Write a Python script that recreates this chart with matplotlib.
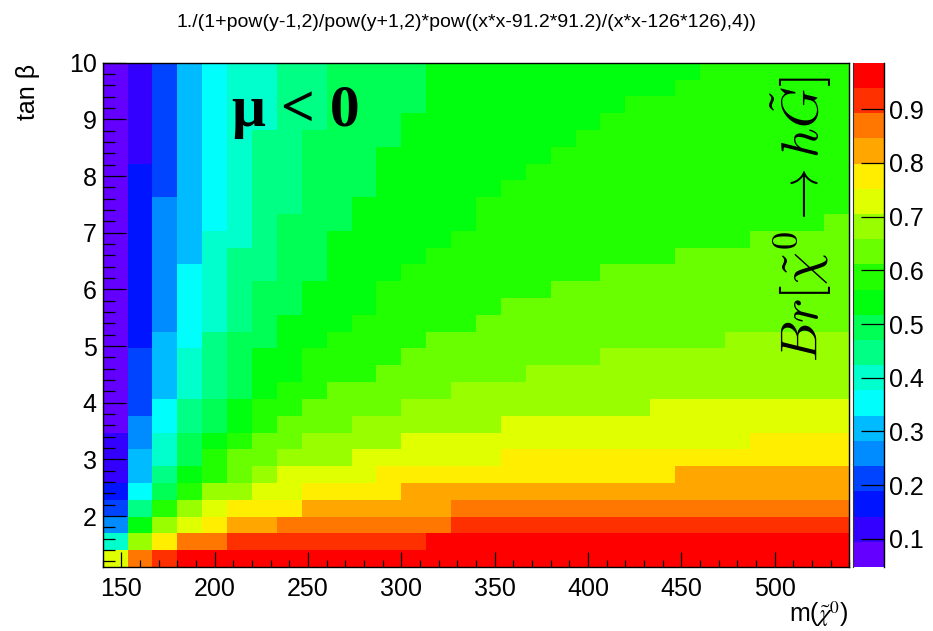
import numpy as np
import matplotlib
matplotlib.use("Agg")
import matplotlib.pyplot as plt
from matplotlib.colors import ListedColormap, BoundaryNorm
from matplotlib.ticker import MultipleLocator

plt.rcParams['font.family'] = ['Liberation Sans', 'DejaVu Sans']

W, H, DPI = 933, 631, 100

# ---------------- texts ----------------
title_text = "1./(1+pow(y-1,2)/pow(y+1,2)*pow((x*x-91.2*91.2)/(x*x-126*126),4))"
x_label = r"m($\tilde{\chi}^{0}$)"
y_label = "tan β"
z_label = r"$Br[\tilde{\chi}^{0}\rightarrow h\tilde{G}]$"
annotation = "μ < 0"

# ---------------- axes / bins ----------------
x_range = (140.0, 540.0)          # 30 bins
y_range = (1.1, 10.0)             # 30 bins
z_range = (0.0476, 0.9866)        # colour scale limits
x_major_ticks = [150, 200, 250, 300, 350, 400, 450, 500]
y_major_ticks = [2, 3, 4, 5, 6, 7, 8, 9, 10]
z_ticks = [0.1, 0.2, 0.3, 0.4, 0.5, 0.6, 0.7, 0.8, 0.9]
z_tick_labels = ["0.1", "0.2", "0.3", "0.4", "0.5", "0.6", "0.7", "0.8", "0.9"]

# 20 colour bands of the palette (bottom -> top)
palette = ["#6300ff", "#3300ff", "#0014ff", "#0044ff", "#008bff",
           "#00bbff", "#00fffc", "#00ffcc", "#00ff85", "#00ff55",
           "#00ff0e", "#22ff00", "#69ff00", "#99ff00", "#e0ff00",
           "#ffee00", "#ffa700", "#ff7700", "#ff3000", "#ff0000"]

# colour band index of every cell.
# one string per x bin (left -> right), characters = y bins bottom -> top,
# band index coded as 0-9 then A(10) ... J(19)
level_columns = [
    "E7432" "11100" "00000" "00000" "00000" "00000",
    "HDA86" "55443" "33322" "22222" "22221" "11111",
    "IFDB9" "87766" "55554" "44444" "44333" "33333",
    "JHEDB" "A9988" "77766" "66655" "55555" "55555",
    "JHFED" "BBA99" "88887" "77777" "66666" "66666",
    "JIGFD" "CCBAA" "99998" "88887" "77777" "77777",
    "JIGFE" "DCCBB" "AAA99" "99888" "88888" "87777",
    "JIHFE" "EDCCB" "BAAAA" "99999" "98888" "88888",
    "JIHGF" "EDDCC" "BBBAA" "AA999" "99999" "98888",
    "JIHGF" "EDDCC" "CBBBA" "AAAAA" "99999" "99999",
    "JIHGF" "EEDDC" "CBBBB" "AAAAA" "AA999" "99999",
    "JIHGF" "FEDDC" "CCBBB" "BBAAA" "AAAAA" "99999",
    "JIHGG" "FEEDD" "CCCBB" "BBBAA" "AAAAA" "AA999",
    "JJHGG" "FEEDD" "CCCCB" "BBBBA" "AAAAA" "AAAAA",
    "JJIHG" "FEEDD" "DCCCB" "BBBBB" "AAAAA" "AAAAA",
    "JJIHG" "FEEDD" "DCCCC" "BBBBB" "BBAAA" "AAAAA",
    "JJIHG" "FFEED" "DCCCC" "CBBBB" "BBBAA" "AAAAA",
    "JJIHG" "FFEED" "DDCCC" "CBBBB" "BBBBA" "AAAAA",
    "JJIHG" "FFEED" "DDCCC" "CCBBB" "BBBBB" "AAAAA",
    "JJIHG" "FFEED" "DDCCC" "CCBBB" "BBBBB" "BAAAA",
    "JJIHG" "FFEED" "DDDCC" "CCCBB" "BBBBB" "BBAAA",
    "JJIHG" "FFEED" "DDDCC" "CCCBB" "BBBBB" "BBBAA",
    "JJIHG" "FFEEE" "DDDCC" "CCCBB" "BBBBB" "BBBAA",
    "JJIHG" "GFEEE" "DDDCC" "CCCCB" "BBBBB" "BBBBA",
    "JJIHG" "GFEEE" "DDDCC" "CCCCB" "BBBBB" "BBBBB",
    "JJIHG" "GFEEE" "DDDDC" "CCCCB" "BBBBB" "BBBBB",
    "JJIHG" "GFFEE" "DDDDC" "CCCCC" "BBBBB" "BBBBB",
    "JJIHG" "GFFEE" "DDDDC" "CCCCC" "BBBBB" "BBBBB",
    "JJIHG" "GFFEE" "DDDDC" "CCCCC" "BBBBB" "BBBBB",
    "JJIHG" "GFFEE" "DDDDC" "CCCCC" "CBBBB" "BBBBB",
]

# ---------------- build grid ----------------
codes = "0123456789ABCDEFGHIJ"
levels = np.array([[codes.index(c) for c in col] for col in level_columns]).T
n_lev = len(palette)
zmin, zmax = z_range
dz = (zmax - zmin) / n_lev
values = zmin + (levels + 0.5) * dz
x_edges = np.linspace(x_range[0], x_range[1], levels.shape[1] + 1)
y_edges = np.linspace(y_range[0], y_range[1], levels.shape[0] + 1)
bounds = np.linspace(zmin, zmax, n_lev + 1)
cmap = ListedColormap(palette)
norm = BoundaryNorm(bounds, n_lev)

fig = plt.figure(figsize=(W / DPI, H / DPI), dpi=DPI)
fig.patch.set_facecolor("white")


def px_axes(x0, y0, x1, y1):
    return fig.add_axes([x0 / W, 1 - y1 / H, (x1 - x0) / W, (y1 - y0) / H])


# ---------------- main histogram ----------------
ax = px_axes(102.7, 62.7, 849.3, 567.0)
ax.pcolormesh(x_edges, y_edges, values, cmap=cmap, norm=norm,
              shading="flat", antialiased=False, edgecolors="none")
ax.set_xlim(*x_range)
ax.set_ylim(*y_range)
ax.set_xticks(x_major_ticks)
ax.set_xticklabels([str(t) for t in x_major_ticks])
ax.xaxis.set_minor_locator(MultipleLocator(10))
ax.set_yticks(y_major_ticks)
ax.set_yticklabels([str(t) for t in y_major_ticks])
ax.yaxis.set_minor_locator(MultipleLocator(0.2))
ax.tick_params(axis="x", which="major", direction="in", length=10.8, width=0.9,
               labelsize=18, pad=7, top=False, colors="black")
ax.tick_params(axis="x", which="minor", direction="in", length=5.4, width=0.9, top=False)
ax.tick_params(axis="y", which="major", direction="in", length=16.8, width=0.9,
               labelsize=18, pad=4.3, right=False)
ax.tick_params(axis="y", which="minor", direction="in", length=8.4, width=0.9, right=False)
for s in ax.spines.values():
    s.set_linewidth(1.0)
    s.set_color("black")

# ---------------- colour bar ----------------
cax = px_axes(853.3, 62.7, 884.3, 567.0)
mids = 0.5 * (bounds[:-1] + bounds[1:])
cax.pcolormesh([0, 1], bounds, mids.reshape(-1, 1), cmap=cmap, norm=norm,
               shading="flat", antialiased=False, edgecolors="none")
cax.set_xlim(0, 1)
cax.set_ylim(zmin, zmax)
cax.set_xticks([])
cax.yaxis.tick_right()
cax.set_yticks(z_ticks)
cax.set_yticklabels(z_tick_labels)
cax.tick_params(axis="y", direction="in", length=16.5, width=0.9, labelsize=18,
                pad=3.5, left=False, right=True)
cax.spines["top"].set_visible(False)
cax.spines["bottom"].set_visible(False)
cax.spines["left"].set_linewidth(0.8)
cax.spines["left"].set_color("#333333")
cax.spines["right"].set_linewidth(1.0)

# ---------------- texts ----------------
fig.text(466.5 / W, 1 - 27 / H, title_text, ha="center", va="baseline", fontsize=14)
fig.text(28 / W, 1 - 64 / H, y_label, rotation=90, ha="center", va="top", fontsize=18)
fig.text(849 / W, 1 - 622 / H, x_label, ha="right", va="baseline", fontsize=18,
         math_fontfamily="stix")
fig.text(232 / W, 1 - 126 / H, annotation, ha="left", va="baseline", fontsize=43,
         fontfamily="Liberation Serif", fontweight="bold")
fig.text(801 / W, 1 - 219 / H, z_label, rotation=90, ha="center", va="center",
         fontsize=37.5, math_fontfamily="cm")

fig.savefig("out.png", dpi=DPI)
